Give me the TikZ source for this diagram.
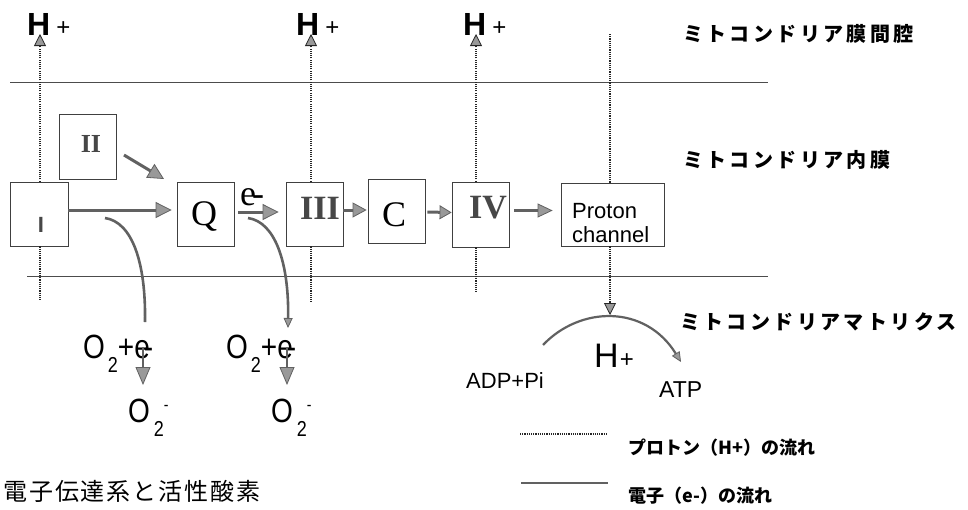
\documentclass[tikz,border=0pt]{standalone}
\usepackage{fontspec}
\setmainfont{Liberation Serif}
\newfontfamily\sans{Liberation Sans}
\newfontfamily\jp{Noto Sans CJK JP}
\newfontfamily\jpw[LetterSpace=17]{Noto Sans CJK JP}
\newfontfamily\jpc[LetterSpace=8]{Noto Sans CJK JP}
\usetikzlibrary{arrows.meta}
\newcommand{\fsz}[1]{\fontsize{#1}{#1}\selectfont}
\tikzset{
  box/.style={draw=black!75, line width=0.8pt, fill=white, inner sep=0pt, minimum width=57pt, minimum height=64pt},
  memb/.style={draw=black!70, line width=0.8pt},
  pflow/.style={draw=black!85, line width=1.3pt, dash pattern=on 1.1pt off 1.1pt},
  ptip/.style={-{Triangle[length=12pt,width=12pt,fill=black!40,line width=0.8pt]}},
  eflow/.style={draw=black!62, line width=3pt},
  etip/.style={-{Triangle[length=16pt,width=16pt,fill=black!40,line width=0.8pt]}},
  stip/.style={-{Triangle[length=10pt,width=9pt,fill=black!40,line width=0.8pt]}},
  rom/.style={inner sep=0pt, text=black!72, font=\bfseries},
  lab/.style={inner sep=0pt, anchor=base west},
  hlab/.style={inner sep=0pt, anchor=base west, font=\sans\bfseries\fsz{32}},
  jlab/.style={inner sep=0pt, anchor=west, font=\jpw\bfseries\fsz{20}},
  leg/.style={inner sep=0pt, anchor=west, font=\jp\bfseries\fsz{18}},
}
\begin{document}
\begin{tikzpicture}[x=1pt,y=-1pt]
\useasboundingbox (0,0) rectangle (968,509);
% membranes
\draw[memb] (10,82) coordinate (mta) -- (768,82) coordinate (mtb);
\draw[memb] (27,276) coordinate (mba) -- (768,276) coordinate (mbb);

% proton flow end points
\coordinate (t1) at (40,34);
\coordinate (t2) at (311,34);
\coordinate (t3) at (476,34);
\coordinate (p4a) at (610,34);
\coordinate (p4b) at (610,315);
\coordinate (s1) at (40,300);
\coordinate (s2) at (311,302);
\coordinate (s3) at (476,292);

% boxes
\node[box, minimum width=58pt] (bI) at (39,214) {};
\node[box, minimum height=65pt] (bII) at (87.5,146.5) {};
\node[box] (bQ) at (205.5,214) {};
\node[box] (bIII) at (314.5,214) {};
\node[box] (bC) at (396.5,211) {};
\node[box, minimum height=65pt] (bIV) at (480.5,214.5) {};
\node[box, minimum width=103pt, minimum height=63pt] (bP) at (612.5,214.5) {};

\draw[pflow, ptip] (bI.north -| t1) -- (t1);
\draw[pflow, ptip] (bIII.north -| t2) -- (t2);
\draw[pflow, ptip] (bIV.north -| t3) -- (t3);
\draw[pflow] (p4a) -- (bP.north -| p4a);
\draw[pflow, ptip] (bP.south -| p4a) -- (p4b);
\draw[pflow] (bI.south -| s1) -- (s1);
\draw[pflow] (bIII.south -| s2) -- (s2);
\draw[pflow] (bIV.south -| s3) -- (s3);

% box texts
\node[rom, font=\sans\bfseries\fsz{22}] (tI) at (41,225) {I};
\node[rom, font=\bfseries\fsz{26}] (tII) at (91,144) {II};
\node[inner sep=0pt, font=\fsz{36}] (tQ) at (204,216) {Q};
\node[rom, font=\bfseries\fsz{34}] (tIII) at (320,208) {III};
\node[inner sep=0pt, font=\fsz{36}] (tC) at (394,215) {C};
\node[rom, font=\bfseries\fsz{34}] (tIV) at (488,208) {IV};
\node[lab, font=\sans\fsz{22}] (tP1) at (572,218) {Proton};
\node[lab, font=\sans\fsz{22}] (tP2) at (572,242) {channel};

% H+ labels
\node[hlab] (h1) at (27,35) {H\hspace{6pt}{\mdseries\fsz{24}+}};
\node[hlab] (h2) at (296,35) {H\hspace{6pt}{\mdseries\fsz{24}+}};
\node[hlab] (h3) at (463,35) {H\hspace{6pt}{\mdseries\fsz{24}+}};

% electron flow
\draw[eflow, etip, shorten >=5pt] ([yshift=4pt]bI.east) -- ([yshift=4pt]bQ.west);
\coordinate (e2a) at (124,155);
\coordinate (e2b) at (164,179);
\draw[eflow, etip] (e2a) -- (e2b);
\draw[eflow, etip, shorten <=4pt, shorten >=7pt] ([yshift=2pt]bQ.east) -- ([yshift=2pt]bIII.west);
\draw[eflow, -{Triangle[length=14pt,width=15pt,fill=black!40,line width=0.8pt]}] ([yshift=4pt]bIII.east) -- ([yshift=1pt,xshift=-1pt]bC.west);
\draw[eflow, -{Triangle[length=12pt,width=14pt,fill=black!40,line width=0.8pt]}, shorten <=2pt] ([yshift=-1pt]bC.east) -- ([yshift=2pt]bIV.west);
\draw[eflow, line width=2.5pt, -{Triangle[length=15pt,width=14pt,fill=black!40,line width=0.8pt]}, shorten <=5pt, shorten >=8pt] ([yshift=4pt]bIV.east) -- ([yshift=4pt]bP.west);
\node[inner sep=0pt, anchor=base west, font=\fsz{36}] (eQ) at (240,205) {e\kern-4pt-};

% leak curves
\coordinate (c1s) at (105,218);
\coordinate (c1e) at (145,322);
\coordinate (c2s) at (248,218);
\coordinate (c2e) at (288,328);
\draw[eflow, line width=2.6pt] (c1s) .. controls (132,222) and (146,262) .. (c1e);
\draw[eflow, line width=2.6pt, stip] (c2s) .. controls (275,222) and (289,262) .. (c2e);

% O2 reactions
\node[lab, font=\sans\fsz{28}] (r1) at (83,358) {\scalebox{1}[1.2]{O\hspace{3pt}\raisebox{-12pt}{\fsz{18}2}+e\kern-6pt-}};
\node[lab, font=\sans\fsz{28}] (r2) at (226,358) {\scalebox{1}[1.2]{O\hspace{3pt}\raisebox{-12pt}{\fsz{18}2}+e\kern-6pt-}};
\node[lab, font=\sans\fsz{28}] (o1) at (128,422) {\scalebox{1}[1.2]{O\hspace{4pt}\raisebox{-12pt}{\fsz{18}2}\raisebox{10pt}{\fsz{14}-}}};
\node[lab, font=\sans\fsz{28}] (o2) at (271,422) {\scalebox{1}[1.2]{O\hspace{4pt}\raisebox{-12pt}{\fsz{18}2}\raisebox{10pt}{\fsz{14}-}}};
\coordinate (d1a) at (143,347);
\coordinate (d1b) at (143,385);
\coordinate (d2a) at (287,347);
\coordinate (d2b) at (287,385);
\draw[eflow, line width=2pt, -{Triangle[length=18pt,width=15pt,fill=black!40,line width=0.8pt]}] (d1a) -- (d1b);
\draw[eflow, line width=2pt, -{Triangle[length=18pt,width=15pt,fill=black!40,line width=0.8pt]}] (d2a) -- (d2b);

% ATP synthesis
\node[lab, font=\sans\fsz{22}] (adp) at (466,388) {ADP+Pi};
\node[lab, font=\sans\fsz{23}] (atp) at (659,397) {ATP};
\node[lab, font=\sans\fsz{34}] (hm) at (594,367) {H\hspace{1pt}{\fsz{24}+}};
\coordinate (a1) at (543,345);
\coordinate (a2) at (681,362);
\draw[eflow, line width=2.2pt, stip] (a1) .. controls (580,306) and (645,304) .. (a2);

% region labels
\node[jlab] (j1) at (683,34) {ミトコンドリア膜間腔};
\node[jlab] (j2) at (683,160) {ミトコンドリア内膜};
\node[jlab] (j3) at (680,322) {ミトコンドリアマトリクス};

% legend
\coordinate (l1a) at (520,434);
\coordinate (l1b) at (607,434);
\coordinate (l2a) at (521,483);
\coordinate (l2b) at (608,483);
\draw[pflow] (l1a) -- (l1b);
\draw[eflow, line width=2.5pt] (l2a) -- (l2b);
\node[leg] (g1) at (628,448) {プロトン（H+）の流れ};
\node[leg] (g2) at (628,496) {電子（e-）の流れ};

% caption
\node[inner sep=0pt, anchor=west, font=\jpc\fsz{24}] (cap) at (3,491) {電子伝達系と活性酸素};
\end{tikzpicture}
\end{document}
